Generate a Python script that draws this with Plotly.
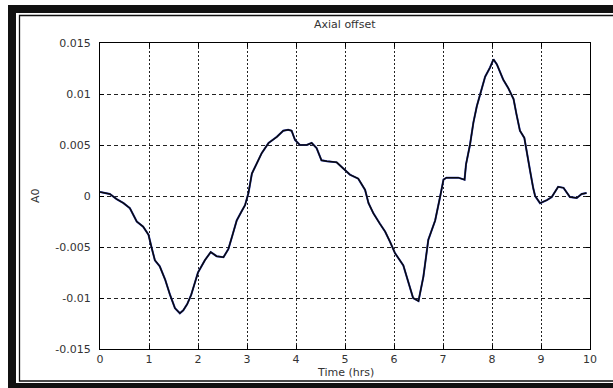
import plotly.graph_objects as go

# ---- data ----
time_hrs = [0.00, 0.10, 0.20, 0.34, 0.48, 0.61, 0.68, 0.75, 0.88, 0.99,
            1.05, 1.12, 1.22, 1.33, 1.43, 1.53, 1.63, 1.70, 1.78, 1.86,
            2.00, 2.14, 2.26, 2.38, 2.52, 2.62, 2.70, 2.79, 2.89, 2.96,
            3.03, 3.10, 3.20, 3.30, 3.44, 3.61, 3.74, 3.84, 3.91, 3.98,
            4.08, 4.22, 4.32, 4.42, 4.52, 4.63, 4.83, 4.97, 5.10, 5.27,
            5.41, 5.48, 5.58, 5.71, 5.82, 5.92, 6.02, 6.19, 6.29, 6.39,
            6.50, 6.60, 6.70, 6.84, 6.94, 7.01, 7.07, 7.31, 7.44, 7.47,
            7.55, 7.62, 7.69, 7.76, 7.86, 7.96, 8.03, 8.10, 8.16, 8.23,
            8.33, 8.44, 8.50, 8.57, 8.66, 8.72, 8.78, 8.84, 8.88, 8.98,
            9.12, 9.22, 9.35, 9.46, 9.59, 9.73, 9.83, 9.93]
axial_offset = [0.0004, 0.0003, 0.0002, -0.0003, -0.0007, -0.0012, -0.0019, -0.0025, -0.0030, -0.0038,
                -0.0050, -0.0063, -0.0069, -0.0082, -0.0097, -0.0110, -0.0115, -0.0112, -0.0106, -0.0097,
                -0.0075, -0.0063, -0.0055, -0.0059, -0.0060, -0.0052, -0.0039, -0.0024, -0.0015, -0.0009,
                0.0003, 0.0022, 0.0032, 0.0042, 0.0052, 0.0058, 0.0064, 0.0065, 0.0064, 0.0055,
                0.0050, 0.0050, 0.0052, 0.0047, 0.0035, 0.0034, 0.0033, 0.0027, 0.0021, 0.0017,
                0.0006, -0.0007, -0.0017, -0.0027, -0.0035, -0.0045, -0.0056, -0.0068, -0.0084, -0.0100,
                -0.0103, -0.0079, -0.0043, -0.0024, -0.0001, 0.0016, 0.0018, 0.0018, 0.0016, 0.0031,
                0.0050, 0.0072, 0.0088, 0.0100, 0.0117, 0.0126, 0.0134, 0.0129, 0.0122, 0.0114,
                0.0106, 0.0095, 0.0080, 0.0064, 0.0057, 0.0042, 0.0024, 0.0008, 0.0000, -0.0007,
                -0.0004, -0.0001, 0.0009, 0.0008, -0.0001, -0.0002, 0.0002, 0.0003]

x_ticks = [0, 1, 2, 3, 4, 5, 6, 7, 8, 9, 10]
y_ticks = [-0.015, -0.01, -0.005, 0, 0.005, 0.01, 0.015]
y_tick_labels = ["-0.015", "-0.01", "-0.005", "0", "0.005", "0.01", "0.015"]

# ---- layout geometry (pixels) ----
W, H = 613, 388
L, R, T, B = 100, 23, 43, 39
PW, PH = W - L - R, H - T - B


def px(xp):
    return (xp - L) / PW


def py(yp):
    return (H - B - yp) / PH


FONT = "DejaVu Sans, Liberation Sans, sans-serif"
TXT = "#333333"

fig = go.Figure()
fig.add_trace(go.Scatter(x=time_hrs, y=axial_offset, mode="lines",
                         line=dict(color="#3040c0", width=2.0), hoverinfo="skip",
                         showlegend=False))
fig.add_trace(go.Scatter(x=time_hrs, y=axial_offset, mode="lines",
                         line=dict(color="#0a0a0a", width=1.5), showlegend=False))

axis_common = dict(showline=True, linecolor="black", linewidth=1, mirror="ticks",
                   ticks="inside", ticklen=4, tickcolor="black", zeroline=False,
                   showgrid=True, gridcolor="#222222", gridwidth=1,
                   tickfont=dict(family=FONT, size=11, color=TXT))

fig.update_xaxes(range=[0, 10], tickvals=x_ticks, griddash="2px,2px", **axis_common)
fig.update_yaxes(range=[-0.015, 0.015], tickvals=y_ticks, ticktext=y_tick_labels,
                 griddash="4px,3px", ticklabelstandoff=6, **axis_common)

shapes = [
    # thick outer frame bands
    dict(type="rect", xref="paper", yref="paper", x0=px(8), x1=px(W + 5), y0=py(13), y1=py(5),
         fillcolor="#111111", line=dict(width=0), layer="above"),
    dict(type="rect", xref="paper", yref="paper", x0=px(8), x1=px(16), y0=py(H + 2), y1=py(5),
         fillcolor="#111111", line=dict(width=0), layer="above"),
    dict(type="rect", xref="paper", yref="paper", x0=px(8), x1=px(W + 5), y0=py(H + 2), y1=py(383),
         fillcolor="#111111", line=dict(width=0), layer="above"),
    # thin inner frame
    dict(type="rect", xref="paper", yref="paper", x0=px(19.5), x1=px(W + 10), y0=py(381), y1=py(15.5),
         fillcolor="rgba(0,0,0,0)", line=dict(color="#111111", width=1.3), layer="above"),
]

annotations = [
    dict(text="Axial offset", xref="paper", yref="paper", x=0.5, y=py(25),
         showarrow=False, xanchor="center", yanchor="middle",
         font=dict(family=FONT, size=11, color=TXT)),
    dict(text="Time (hrs)", xref="paper", yref="paper", x=0.5, y=py(372),
         showarrow=False, xanchor="center", yanchor="middle",
         font=dict(family=FONT, size=11, color=TXT)),
    dict(text="A0", xref="paper", yref="paper", x=px(35), y=py(196), textangle=-90,
         showarrow=False, xanchor="center", yanchor="middle",
         font=dict(family=FONT, size=11, color=TXT)),
]

fig.update_layout(width=W, height=H, margin=dict(l=L, r=R, t=T, b=B, autoexpand=False),
                  paper_bgcolor="white", plot_bgcolor="white",
                  shapes=shapes, annotations=annotations)

fig.write_html("out.html", config={"displayModeBar": False},
               post_script="document.body.style.margin='0';document.body.style.overflow='hidden';")
